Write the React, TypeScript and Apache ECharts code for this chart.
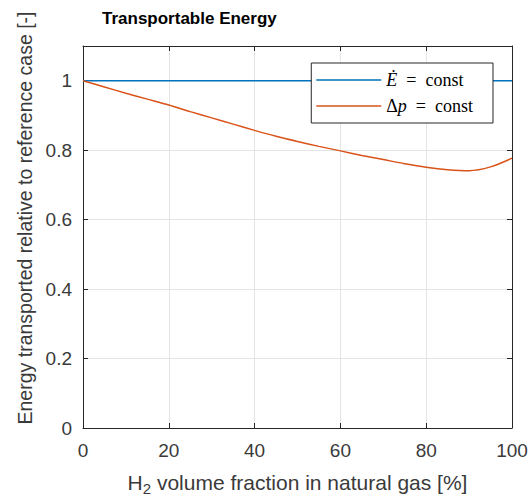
import React, { useEffect, useRef } from "react";
import * as echarts from "echarts";

const titleText = "Transportable Energy";
const yAxisTitle = "Energy transported relative to reference case [-]";
const h2Fractions = [0, 5, 10, 15, 20, 25, 30, 35, 40, 45, 50, 55, 60, 65, 70, 75, 80, 85, 90, 95, 100];
const constEnergyValues = [1, 1, 1, 1, 1, 1, 1, 1, 1, 1, 1, 1, 1, 1, 1, 1, 1, 1, 1, 1, 1];
const constPressureValues = [
  1.0, 0.982, 0.964, 0.947, 0.93, 0.911, 0.893, 0.875, 0.857, 0.84, 0.825, 0.811, 0.798, 0.785, 0.773,
  0.761, 0.751, 0.744, 0.741, 0.752, 0.777,
];
const seriesNames = ["Ė = const", "Δp = const"];
const xTicks = [0, 20, 40, 60, 80, 100];
const yTicks = [0, 0.2, 0.4, 0.6, 0.8, 1];

const AXIS = "#262626";
const LABEL = "#3a3a3a";
const GRIDC = "#e4e4e4";
const SANS = "Arial, 'Liberation Sans', sans-serif";
const SERIF = "'Liberation Serif', 'DejaVu Serif', serif";

export default function App() {
  const ref = useRef<HTMLDivElement>(null);
  useEffect(() => {
    if (!ref.current) return;
    const chart = echarts.init(ref.current, undefined, { renderer: "svg" });
    const axisCommon = {
      type: "value" as const,
      axisLine: { show: true, onZero: false, lineStyle: { color: AXIS, width: 1 } },
      axisTick: { show: true, inside: true, length: 5, lineStyle: { color: AXIS } },
    };
    chart.setOption({
      animation: false,
      backgroundColor: "#fff",
      title: {
        text: titleText,
        left: 97,
        top: 5,
        textStyle: { fontFamily: SANS, fontWeight: "bold", fontSize: 17, color: "#000" },
      },
      grid: {
        left: 83,
        right: 16,
        top: 46,
        bottom: 73,
        containLabel: false,
        outerBoundsMode: "none",
      },
      legend: {
        orient: "vertical",
        right: 35,
        top: 63,
        data: seriesNames,
        icon: "rect",
        itemWidth: 65,
        itemHeight: 1.5,
        itemGap: 4,
        padding: [6, 20, 6, 5],
        borderColor: AXIS,
        borderWidth: 1,
        borderRadius: 0,
        backgroundColor: "#fff",
        formatter: (name: string) =>
          name === seriesNames[0] ? "{i|Ė}  =  const" : "Δ{i|p}  =  const",
        textStyle: {
          fontFamily: SERIF,
          fontSize: 18,
          lineHeight: 22,
          color: "#000",
          rich: {
            i: { fontFamily: SERIF, fontSize: 18, lineHeight: 22, fontStyle: "italic", color: "#000" },
          },
        },
      },
      xAxis: [
        {
          ...axisCommon,
          position: "bottom",
          min: 0,
          max: 100,
          interval: 20,
          splitLine: { show: true, lineStyle: { color: GRIDC } },
          axisLabel: {
            color: LABEL,
            fontFamily: SANS,
            fontSize: 19,
            margin: 13,
            formatter: (v: number) => (xTicks.includes(v) ? String(v) : ""),
          },
          name: "{t|H}{s|2}{t| volume fraction in natural gas [%]}",
          nameLocation: "middle",
          nameGap: 41,
          nameTextStyle: {
            rich: {
              t: { fontFamily: SANS, fontSize: 21, color: LABEL },
              s: { fontFamily: SANS, fontSize: 15, color: LABEL, padding: [12, 0, 0, 0] },
            },
          },
        },
        {
          ...axisCommon,
          position: "top",
          min: 0,
          max: 100,
          interval: 20,
          splitLine: { show: false },
          axisLabel: { show: false },
        },
      ],
      yAxis: [
        {
          ...axisCommon,
          position: "left",
          min: 0,
          max: 1.1,
          interval: 0.2,
          splitLine: { show: true, lineStyle: { color: GRIDC } },
          axisLabel: {
            color: LABEL,
            fontFamily: SANS,
            fontSize: 19,
            margin: 11,
            formatter: (v: number) => {
              const t = yTicks.find((y) => Math.abs(y - v) < 1e-6);
              return t === undefined ? "" : String(t);
            },
          },
        },
        {
          ...axisCommon,
          position: "right",
          min: 0,
          max: 1.1,
          interval: 0.2,
          splitLine: { show: false },
          axisLabel: { show: false },
        },
      ],
      graphic: [
        {
          type: "text",
          x: 25,
          y: 218,
          rotation: Math.PI / 2,
          style: {
            text: yAxisTitle,
            fontFamily: SANS,
            fontSize: 19.5,
            fill: LABEL,
            align: "center",
            verticalAlign: "middle",
          },
        },
      ],
      series: [
        {
          name: seriesNames[0],
          type: "line",
          showSymbol: false,
          symbol: "none",
          data: h2Fractions.map((x, i) => [x, constEnergyValues[i]]),
          lineStyle: { color: "#0072BD", width: 1.5 },
          itemStyle: { color: "#0072BD" },
        },
        {
          name: seriesNames[1],
          type: "line",
          showSymbol: false,
          symbol: "none",
          smooth: 0.3,
          data: h2Fractions.map((x, i) => [x, constPressureValues[i]]),
          lineStyle: { color: "#D95319", width: 1.5 },
          itemStyle: { color: "#D95319" },
        },
      ],
    });
    return () => chart.dispose();
  }, []);
  return (
    <div
      ref={ref}
      style={{ position: "fixed", left: 0, top: 0, width: 528, height: 501, background: "#fff" }}
    />
  );
}
